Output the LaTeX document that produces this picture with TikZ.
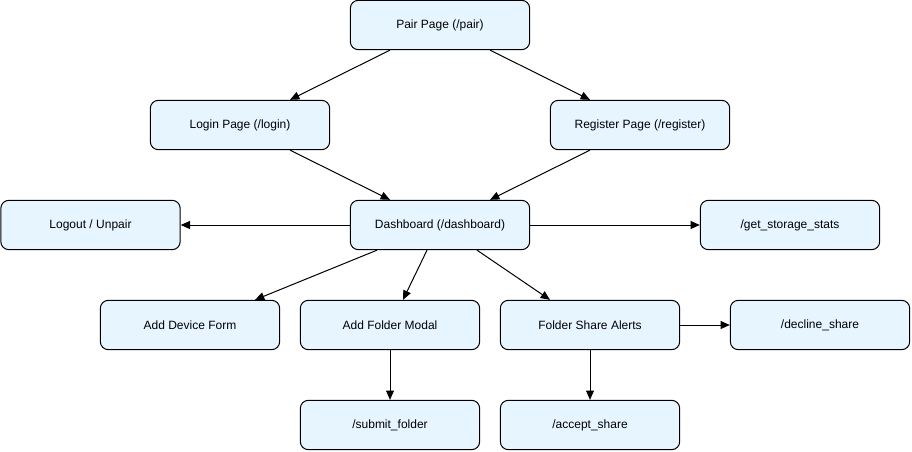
\documentclass[tikz,border=0pt]{standalone}
\usepackage{fontspec}
\setmainfont{Liberation Sans}
\usetikzlibrary{arrows.meta,calc}
\definecolor{boxfill}{HTML}{E6F5FF}
\tikzset{
  box/.style={draw=black, fill=boxfill, rounded corners=6pt, minimum width=134.5pt, minimum height=37pt, inner sep=0pt, font=\fontsize{9}{11}\selectfont, line width=0.75pt},
  conn/.style={draw=black, line width=0.75pt, -{Triangle[length=7pt,width=6pt]}}
}
\begin{document}
\begin{tikzpicture}[x=0.75pt,y=-0.75pt]
\useasboundingbox (0,0) rectangle (912,452);
\node[box] (pair) at (440,25) {Pair Page (/pair)};
\node[box] (login) at (240,125) {Login Page (/login)};
\node[box] (register) at (640,125) {Register Page (/register)};
\node[box] (logout) at (90.5,225) {Logout / Unpair};
\node[box] (dash) at (440,225) {Dashboard (/dashboard)};
\node[box] (stats) at (790,225) {/get\_storage\_stats};
\node[box] (device) at (190,325) {Add Device Form};
\node[box] (folder) at (390,325) {Add Folder Modal};
\node[box] (alerts) at (590,325) {Folder Share Alerts};
\node[box] (decline) at (820,325) {/decline\_share};
\node[box] (submit) at (390,425) {/submit\_folder};
\node[box] (accept) at (590,425) {/accept\_share};

\draw[conn] ($(pair.south)+(-50,0)$) -- ($(login.north)+(50,0)$);
\draw[conn] ($(pair.south)+(50,0)$) -- ($(register.north)+(-50,0)$);
\draw[conn] ($(login.south)+(50,0)$) -- ($(dash.north)+(-50,0)$);
\draw[conn] ($(register.south)+(-50,0)$) -- ($(dash.north)+(50,0)$);
\draw[conn] (dash.west) -- (logout.east);
\draw[conn] (dash.east) -- (stats.west);
\draw[conn] ($(dash.south)+(-63,0)$) -- ($(device.north)+(65,0)$);
\draw[conn] ($(dash.south)+(-13,0)$) -- ($(folder.north)+(13,0)$);
\draw[conn] ($(dash.south)+(37,0)$) -- ($(alerts.north)+(-40,0)$);
\draw[conn] (alerts.east) -- (decline.west);
\draw[conn] (folder.south) -- (submit.north);
\draw[conn] (alerts.south) -- (accept.north);
\end{tikzpicture}
\end{document}
